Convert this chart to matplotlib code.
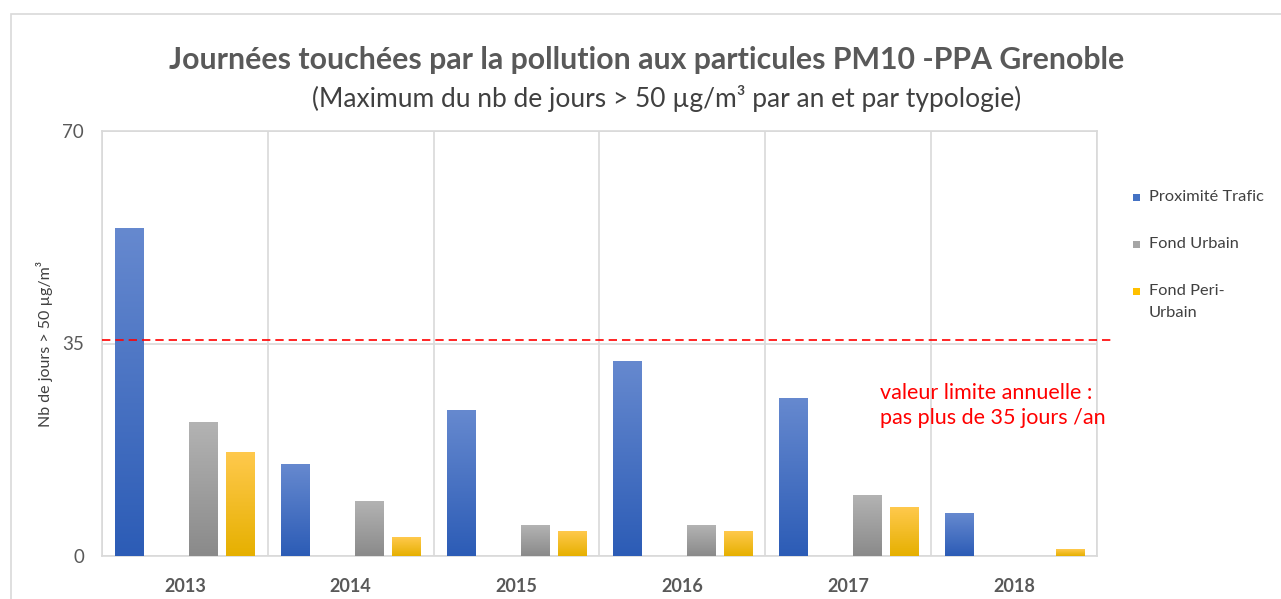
import matplotlib.pyplot as plt
import numpy as np
from matplotlib.colors import LinearSegmentedColormap
from matplotlib.patches import Rectangle
import matplotlib.transforms as mtransforms

plt.rcParams['font.family'] = ['Lato', 'DejaVu Sans']

# données
annees = ['2013', '2014', '2015', '2016', '2017', '2018']
proximite_trafic = [54, 15, 24, 32, 26, 7]
fond_urbain = [22, 9, 5, 5, 10, 0]
fond_peri_urbain = [17, 3, 4, 4, 8, 1]
valeur_limite = 35.5
yticks = [0, 35, 70]

series = [
    ('Proximité Trafic', proximite_trafic, -1.5, '#6689cf', '#2c5cb6', '#4472c4'),
    ('Fond Urbain', fond_urbain, 0.5, '#b3b3b3', '#8a8a8a', '#a5a5a5'),
    ('Fond Peri-\nUrbain', fond_peri_urbain, 1.5, '#ffc94d', '#e6b000', '#ffc000'),
]

W, H = 1281, 599
fig = plt.figure(figsize=(W / 100, H / 100), dpi=100)
ax = fig.add_axes([102 / W, 43 / H, 995 / W, 425 / H])

# cadre du graphique
fig.patches.append(Rectangle((11 / W, -0.1), 1.2, (H - 14) / H + 0.1,
                             transform=fig.transFigure, fill=False,
                             edgecolor='#d9d9d9', lw=1.2))

slot = 0.223
largeur = 0.169
x = np.arange(len(annees))
grad = np.linspace(0, 1, 256).reshape(-1, 1)

for nom, valeurs, pos, c_haut, c_bas, c_leg in series:
    cmap = LinearSegmentedColormap.from_list(nom, [c_bas, c_haut])
    bars = ax.bar(x + pos * slot, valeurs, width=largeur, color='none', zorder=3)
    for b in bars:
        h = b.get_height()
        if h <= 0:
            continue
        x0 = b.get_x()
        ax.imshow(grad, extent=[x0, x0 + b.get_width(), 0, h], origin='lower',
                  cmap=cmap, aspect='auto', zorder=3)

ax.set_xlim(-0.5, len(annees) - 0.5)
ax.set_ylim(0, 70)

# grille
ax.set_yticks(yticks)
ax.set_yticklabels([str(t) for t in yticks], fontsize=13.5, color='#595959')
ax.set_xticks(x)
ax.set_xticklabels(annees, fontsize=13, fontweight='bold', color='#595959')
ax.set_xticks(np.arange(len(annees) + 1) - 0.5, minor=True)
ax.grid(axis='y', which='major', color='#d9d9d9', lw=1.2, zorder=0)
ax.grid(axis='x', which='minor', color='#d9d9d9', lw=1.2, zorder=0)
ax.tick_params(axis='both', which='both', length=0)
ax.tick_params(axis='y', pad=13)
ax.tick_params(axis='x', pad=16)
for s in ax.spines.values():
    s.set_color('#d9d9d9')
    s.set_linewidth(1.2)

ax.set_ylabel('Nb de jours > 50 µg/m³', fontsize=11.5, color='#404040')
ax.yaxis.set_label_coords(-0.049, 0.5)

# valeur limite
trans = mtransforms.blended_transform_factory(ax.transAxes, ax.transData)
ax.plot([0, 1.015], [valeur_limite, valeur_limite], transform=trans, color='#ff0000',
        lw=1.2, ls=(0, (5, 3)), clip_on=False, zorder=4)
ax.text(0.7815, 24.8, 'valeur limite annuelle :\npas plus de 35 jours /an',
        transform=trans, color='#ff0000', fontsize=15.5, va='center', ha='left',
        linespacing=1.3)

# titres
fig.text(0.5045, 0.899, 'Journées touchées par la pollution aux particules PM10 -PPA Grenoble',
         ha='center', va='center', fontsize=21.8, fontweight='bold', color='#595959')
fig.text(0.5205, 0.836, '(Maximum du nb de jours > 50 µg/m³ par an et par typologie)',
         ha='center', va='center', fontsize=19, color='#404040')

# légende
leg_y = [197, 244, 291]
for (nom, _, _, _, _, c_leg), yy in zip(series, leg_y):
    fig.patches.append(Rectangle((1133 / W, 1 - (yy + 3.5) / H), 7 / W, 7 / H,
                                 transform=fig.transFigure, facecolor=c_leg,
                                 edgecolor='none'))
    fig.text(1149 / W, 1 - yy / H, nom.split('\n')[0], fontsize=11.8, color='#404040',
             va='center', ha='left')
    if '\n' in nom:
        fig.text(1149 / W, 1 - (yy + 22) / H, nom.split('\n')[1], fontsize=11.8,
                 color='#404040', va='center', ha='left')

fig.savefig('out.png', dpi=100)
